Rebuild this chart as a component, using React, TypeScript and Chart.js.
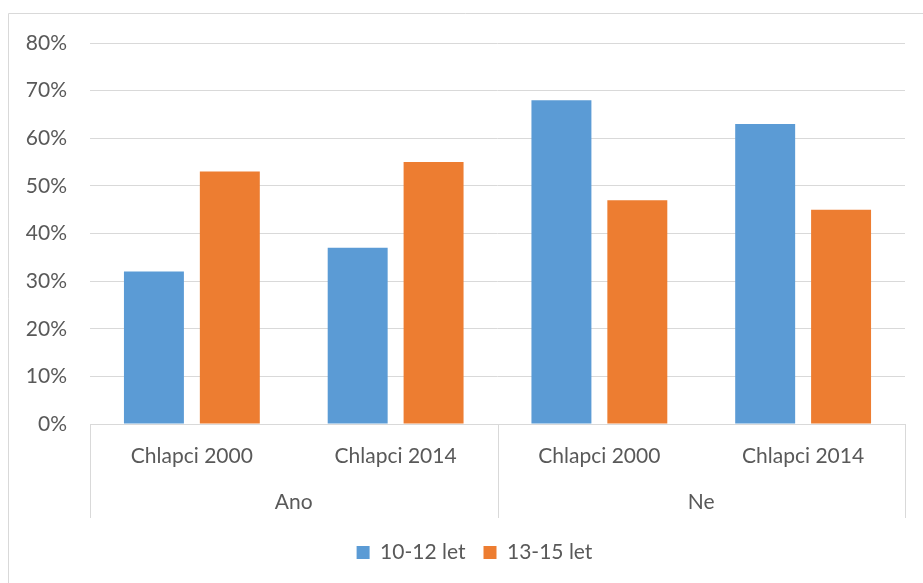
import React, { useEffect, useRef } from "react";
import { Chart, registerables } from "chart.js";

Chart.register(...registerables);

const categories = ["Chlapci 2000", "Chlapci 2014", "Chlapci 2000", "Chlapci 2014"];
const groups = ["Ano", "Ne"];
const groupSpans = [2, 2];
const series1Label = "10-12 let";
const series2Label = "13-15 let";
const series1 = [32, 37, 68, 63];
const series2 = [53, 55, 47, 45];
const yTicks = [0, 10, 20, 30, 40, 50, 60, 70, 80];

const FONT = "Lato";
const FS = 21;
const TEXT = "#595959";
const GRID = "#D9D9D9";

const groupPlugin = {
  id: "groupAxis",
  afterLayout(chart: any) {
    const lg = chart.legend;
    if (lg) {
      lg.left += 22;
      lg.right += 22;
    }
  },
  beforeDraw(chart: any) {
    const ctx = chart.ctx;
    ctx.save();
    ctx.strokeStyle = GRID;
    ctx.lineWidth = 1;
    ctx.beginPath();
    ctx.moveTo(8.5, 583);
    ctx.lineTo(8.5, 13.5);
    ctx.lineTo(923, 13.5);
    ctx.stroke();
    ctx.restore();
  },
  afterDraw(chart: any) {
    const ctx = chart.ctx;
    const x = chart.scales.x;
    const area = chart.chartArea;
    const step = x.getPixelForValue(1) - x.getPixelForValue(0);
    const edge = (i: number) => x.getPixelForValue(i) - step / 2;
    const lineBottom = area.bottom + 94;
    ctx.save();
    ctx.strokeStyle = GRID;
    ctx.lineWidth = 1;
    let idx = 0;
    const bounds: number[] = [0];
    groupSpans.forEach((s) => {
      idx += s;
      bounds.push(idx);
    });
    bounds.forEach((b) => {
      const px = Math.round(edge(b)) + 0.5;
      ctx.beginPath();
      ctx.moveTo(px, area.bottom);
      ctx.lineTo(px, lineBottom);
      ctx.stroke();
    });
    ctx.fillStyle = TEXT;
    ctx.font = `${FS}px ${FONT}`;
    ctx.textAlign = "center";
    ctx.textBaseline = "middle";
    groups.forEach((g, i) => {
      const cx = (edge(bounds[i]) + edge(bounds[i + 1])) / 2;
      ctx.fillText(g, cx, area.bottom + 78);
    });
    ctx.restore();
  },
};

export default function App() {
  const ref = useRef<HTMLCanvasElement | null>(null);
  useEffect(() => {
    if (!ref.current) return;
    const chart = new Chart(ref.current, {
      type: "bar",
      data: {
        labels: categories,
        datasets: [
          { label: series1Label, data: series1, backgroundColor: "#5B9BD5", categoryPercentage: 0.745, barPercentage: 0.79 },
          { label: series2Label, data: series2, backgroundColor: "#ED7D31", categoryPercentage: 0.745, barPercentage: 0.79 },
        ],
      },
      options: {
        responsive: false,
        animation: false,
        layout: { padding: { left: 0, right: 18, top: 43, bottom: 10 } },
        plugins: {
          legend: {
            position: "bottom",
            labels: {
              boxWidth: 13,
              boxHeight: 13,
              color: TEXT,
              font: { family: FONT, size: FS },
              padding: 18,
            },
          },
          tooltip: { enabled: false },
        },
        scales: {
          x: {
            grid: { display: false },
            border: { display: true, color: GRID },
            ticks: { color: TEXT, font: { family: FONT, size: FS }, padding: 12, maxRotation: 0 },
            afterFit(scale: any) {
              scale.height = 100;
            },
          },
          y: {
            min: 0,
            max: 80,
            afterBuildTicks(scale: any) {
              scale.ticks = yTicks.map((v) => ({ value: v }));
            },
            grid: { color: GRID, drawTicks: false },
            border: { display: false },
            ticks: {
              color: TEXT,
              font: { family: FONT, size: FS },
              padding: 23,
              callback: (v: any) => v + "%",
            },
            afterFit(scale: any) {
              scale.width = 90;
            },
          },
        },
      },
      plugins: [groupPlugin],
    });
    return () => chart.destroy();
  }, []);
  return (
    <div style={{ position: "absolute", left: 0, top: 0, width: 923, height: 583 }}>
      <canvas ref={ref} width={923} height={583} style={{ display: "block" }} />
    </div>
  );
}
